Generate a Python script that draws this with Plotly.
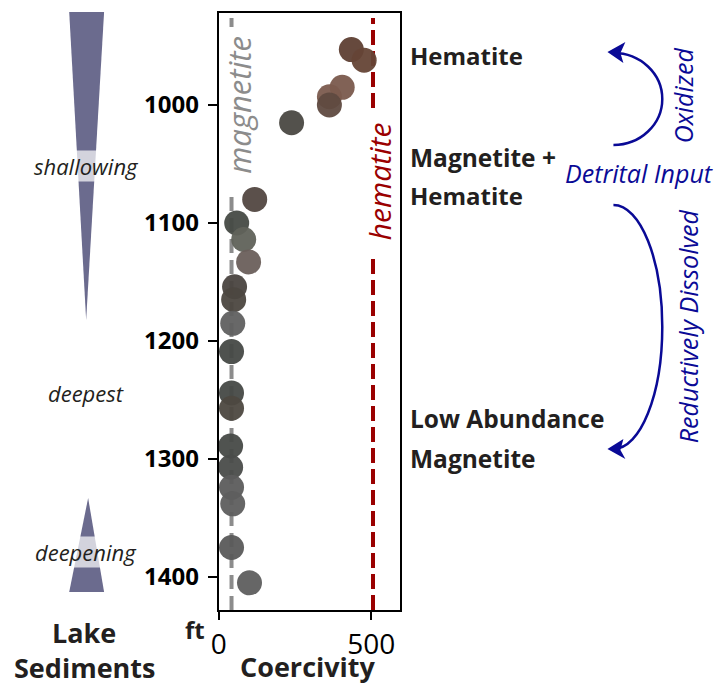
import plotly.graph_objects as go

# ---------------- data ----------------
depth_ft = [953, 962, 985, 993, 1000, 1015, 1080, 1100, 1114, 1133, 1154, 1165,
            1185, 1209, 1244, 1257, 1289, 1307, 1324, 1338, 1375, 1405]
coercivity = [435, 477, 405, 363, 363, 239, 118, 59, 82, 98, 52, 49,
              46, 42, 42, 42, 39, 39, 42, 46, 42, 101]
sample_colors = ["#5e3f33", "#654536", "#7a5a4d", "#7b5b4e", "#5f4a40", "#4a4842",
                 "#524741", "#464a44", "#60625a", "#6a5f5b", "#4a4540", "#4c4740",
                 "#606060", "#464946", "#464946", "#4d4840", "#474a47", "#4a4c4a",
                 "#5c5c5c", "#5e5e5e", "#5a5a5a", "#5e5e5e"]
magnetite_ref = 42
hematite_ref = 506
x_ticks = [0, 500]
y_ticks = [1000, 1100, 1200, 1300, 1400]

W, H = 714, 685
FONT = "Open Sans"
DARK = "#231f20"
BLUE = "#0a0a96"
SLATE = "#6b6b8e"
GRAY = "#8c8c8c"
RED = "#9a0000"
X_S, X_T = 0.992, 5.6   # small horizontal calibration of the rendered page


def px(x):
    return ((x - X_T) / X_S) / W


def py(y):
    return 1 - y / H


def poly(pts):
    return "M " + " L ".join(f"{px(a):.5f},{py(b):.5f}" for a, b in pts) + " Z"


def half_ellipse(cx, cy, rx, ry):
    k = 0.5523
    p = [(cx, cy + ry), (cx + k * rx, cy + ry), (cx + rx, cy + k * ry), (cx + rx, cy),
         (cx + rx, cy - k * ry), (cx + k * rx, cy - ry), (cx, cy - ry)]
    f = lambda t: f"{px(t[0]):.5f},{py(t[1]):.5f}"
    return (f"M {f(p[0])} C {f(p[1])} {f(p[2])} {f(p[3])} "
            f"C {f(p[4])} {f(p[5])} {f(p[6])}")


def vline(xval, y_top_px, y_bot_px, color, dash):
    return dict(type="line", xref="x", yref="paper", x0=xval, x1=xval,
                y0=py(y_bot_px), y1=py(y_top_px),
                line=dict(color=color, width=4, dash=dash), layer="below")


shapes = [
    # reference lines (interrupted where their labels sit)
    vline(magnetite_ref, 18, 27, GRAY, "14px,7px"),
    vline(magnetite_ref, 190, 610, GRAY, "14px,7px"),
    vline(hematite_ref, 18, 108, RED, "15px,6px"),
    vline(hematite_ref, 253, 610, RED, "15px,6px"),
    # lake-level wedges
    dict(type="path", xref="paper", yref="paper",
         path=poly([(67, 12), (102, 12), (84, 320)]),
         fillcolor=SLATE, line=dict(width=0), layer="below"),
    dict(type="path", xref="paper", yref="paper",
         path=poly([(86, 498), (102, 592), (67, 592)]),
         fillcolor=SLATE, line=dict(width=0), layer="below"),
    # oxidized arc
    dict(type="path", xref="paper", yref="paper", path=half_ellipse(613, 99, 49, 46),
         line=dict(color=BLUE, width=2.5)),
    dict(type="path", xref="paper", yref="paper",
         path=poly([(607, 52), (625, 42), (620, 53), (623, 63)]),
         fillcolor=BLUE, line=dict(width=0)),
    # reductively dissolved arc
    dict(type="path", xref="paper", yref="paper", path=half_ellipse(613, 327, 49, 122),
         line=dict(color=BLUE, width=2.5)),
    dict(type="path", xref="paper", yref="paper",
         path=poly([(607, 449), (623, 439), (620, 450), (625, 459)]),
         fillcolor=BLUE, line=dict(width=0)),
]

ann = []


def text(x, y, s, size, color=DARK, bold=False, italic=False, angle=0,
         xanchor="center", bg=None):
    d = dict(xref="paper", yref="paper", x=px(x), y=py(y), text=s, showarrow=False,
             textangle=angle, xanchor=xanchor, yanchor="middle", borderpad=0,
             font=dict(family=FONT, size=size, color=color,
                       weight="bold" if bold else "normal",
                       style="italic" if italic else "normal"))
    if bg:
        d["bgcolor"] = bg
    ann.append(d)


# left column
text(84, 166, "shallowing", 22, italic=True, bg="rgba(255,255,255,0.7)")
text(84, 393, "deepest", 22, italic=True)
text(84, 552, "deepening", 22, italic=True, bg="rgba(255,255,255,0.7)")
text(82, 632, "Lake", 27, bold=True)
text(83, 667, "Sediments", 27, bold=True)
text(193, 629, "ft", 24, bold=True)
text(307, 666, "Coercivity", 27, bold=True)

# reference line labels
text(237, 105, "magnetite", 31, color=GRAY, italic=True, angle=-90)
text(378, 181, "hematite", 30, color=RED, italic=True, angle=-90)

# right column
text(408, 56, "Hematite", 24, bold=True, xanchor="left")
text(408, 157, "Magnetite +", 24.5, bold=True, xanchor="left")
text(408, 195, "Hematite", 24, bold=True, xanchor="left")
text(408, 418, "Low Abundance", 24.5, bold=True, xanchor="left")
text(408, 458, "Magnetite", 24.5, bold=True, xanchor="left")

text(683, 95, "Oxidized", 25, color=BLUE, italic=True, angle=-90)
text(639, 173, "Detrital Input", 25, color=BLUE, italic=True)
text(688, 326, "Reductively Dissolved", 25, color=BLUE, italic=True, angle=-90)

fig = go.Figure(layout=dict(shapes=shapes, annotations=ann))
fig.add_trace(go.Scatter(
    x=coercivity, y=depth_ft, mode="markers",
    marker=dict(size=25, color=sample_colors, opacity=0.95, line=dict(width=0)),
    showlegend=False, hoverinfo="x+y"))

fig.update_layout(
    width=W, height=H,
    margin=dict(l=0, r=0, t=0, b=0, pad=0),
    paper_bgcolor="white", plot_bgcolor="rgba(0,0,0,0)",
    showlegend=False,
    xaxis=dict(domain=[px(217), px(399)], range=[0, 595], tickvals=x_ticks,
               ticks="outside", ticklen=8, tickwidth=2, tickcolor="black",
               showline=True, mirror=True, linewidth=2, linecolor="black",
               showgrid=False, zeroline=False,
               tickfont=dict(family=FONT, size=28, color="black")),
    yaxis=dict(domain=[py(610), py(13)], range=[1428, 922], tickvals=y_ticks,
               ticks="outside", ticklen=9, tickwidth=2, tickcolor="black",
               showline=True, mirror=True, linewidth=2, linecolor="black",
               showgrid=False, zeroline=False, ticklabelstandoff=4,
               tickfont=dict(family=FONT, size=24, color="black", weight="bold")),
)

fig.write_html("out.html", config={"displayModeBar": False},
               post_script="document.body.style.margin='0';document.body.style.overflow='hidden';")
